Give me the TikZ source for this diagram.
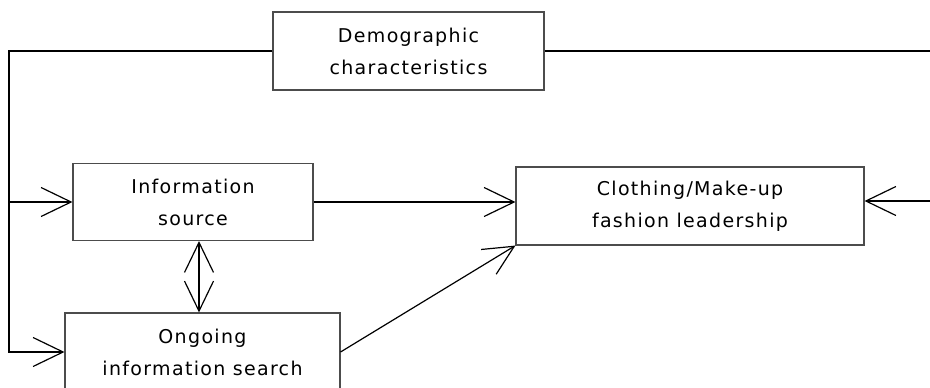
\documentclass[tikz,border=0pt]{standalone}
\usepackage{fontspec}
\setmainfont{DejaVu Sans}[LetterSpace=7]
\usepackage{tikz}
\usetikzlibrary{arrows.meta,calc,positioning}

\begin{document}
\begin{tikzpicture}[x=1pt,y=-1pt,font=\fontsize{19}{32}\selectfont,
  >={Straight Barb[length=30pt,width=29pt]},
  box/.style={draw=gray!60!black,line width=1.1pt,align=center,inner sep=0pt,minimum height=78pt},
  link/.style={line width=1.2pt,black}]
\useasboundingbox (0,0) rectangle (930,388);

% ---------- boxes ----------
\node[box,minimum width=271pt] (demo) at (408.5,51) {Demographic\\characteristics};
\node[box,minimum width=240pt,minimum height=77pt] (info) at (193,202) {Information\\source};
\node[box,minimum width=348pt] (fashion) at (690,206) {Clothing/Make-up\\fashion leadership};
\node[box,minimum width=275pt] (search) at (202.5,352) {Ongoing\\information search};

% ---------- side lines ----------
\coordinate (lft) at (9,51);
\coordinate (rgt) at (936,51);
\draw[link,->] (demo.west) -- (lft) |- (search.west);
\draw[link,->] (lft |- info.west) -- (info.west);
\draw[link,->] (demo.east) -- (rgt) |- ([yshift=5pt]fashion.east);

% ---------- middle arrows ----------
\draw[link,->] (info.east) -- (info.east -| fashion.west);
\draw[link,<->] ([xshift=6pt]info.south) -- ([xshift=6pt]info.south |- search.north);
\draw[link,->] (search.east) -- (fashion.south west);
\end{tikzpicture}
\end{document}
